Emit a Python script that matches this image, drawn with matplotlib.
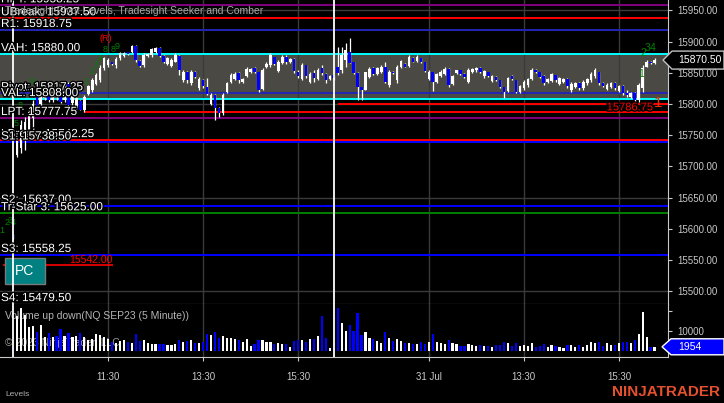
import matplotlib
matplotlib.use("Agg")
import matplotlib.pyplot as plt
import matplotlib.patheffects as pe
import matplotlib.transforms as mtransforms
from matplotlib.patches import Polygon, Rectangle
import numpy as np

plt.rcParams['font.family'] = ['Liberation Sans', 'DejaVu Sans']

W, H = 724, 403

# NQ SEP23 5 minute bars. first bar = last bar of the previous session,
# then 81 bars of 28 Jul RTH and 81 bars of 31 Jul RTH
opens = [15590,
         15718, 15730, 15742, 15758, 15778, 15811, 15800, 15810, 15822, 15806,
         15826, 15819, 15806, 15832, 15802, 15794, 15805, 15790, 15816, 15822,
         15832, 15838, 15858, 15863, 15867, 15863, 15874, 15877, 15883, 15883,
         15893, 15869, 15862, 15877, 15879, 15884, 15890, 15877, 15864, 15861,
         15868, 15877, 15838, 15851, 15834, 15851, 15826, 15838, 15827, 15800,
         15814, 15794, 15786, 15819, 15835, 15840, 15850, 15836, 15845, 15852,
         15858, 15851, 15824, 15859, 15862, 15875, 15853, 15866, 15876, 15867,
         15872, 15852, 15840, 15862, 15836, 15850, 15840, 15858, 15848, 15840,
         15846,
         15859, 15855, 15871, 15883, 15867, 15850, 15827, 15823, 15843, 15858,
         15848, 15852, 15859, 15830, 15851, 15838, 15860, 15865, 15861, 15874,
         15869, 15874, 15867, 15840, 15851, 15836, 15845, 15849, 15857, 15832,
         15850, 15854, 15848, 15836, 15852, 15854, 15858, 15845, 15851, 15837,
         15843, 15838, 15827, 15821, 15845, 15838, 15820, 15825, 15830, 15840,
         15855, 15851, 15845, 15835, 15837, 15847, 15832, 15836, 15840, 15822,
         15828, 15834, 15825, 15834, 15838, 15845, 15851, 15834, 15824, 15828,
         15834, 15821, 15829, 15818, 15812, 15817, 15806, 15826, 15860, 15868,
         15866]
highs = [15592,
         15758, 15774, 15779, 15794, 15806, 15815, 15827, 15829, 15826, 15827,
         15829, 15822, 15834, 15835, 15822, 15811, 15806, 15814, 15831, 15842,
         15850, 15862, 15875, 15874, 15868, 15875, 15883, 15884, 15884, 15895,
         15895, 15871, 15882, 15882, 15890, 15891, 15891, 15879, 15875, 15874,
         15882, 15879, 15855, 15853, 15855, 15853, 15843, 15840, 15842, 15818,
         15816, 15795, 15818, 15835, 15850, 15851, 15851, 15842, 15859, 15858,
         15859, 15852, 15858, 15867, 15882, 15876, 15870, 15879, 15879, 15874,
         15874, 15855, 15866, 15863, 15851, 15855, 15858, 15862, 15850, 15847,
         15847,
         15891, 15891, 15898, 15906, 15868, 15851, 15827, 15852, 15859, 15860,
         15860, 15862, 15867, 15855, 15853, 15862, 15871, 15866, 15879, 15876,
         15879, 15874, 15868, 15854, 15852, 15850, 15854, 15859, 15858, 15847,
         15855, 15855, 15850, 15858, 15858, 15860, 15860, 15855, 15852, 15847,
         15845, 15839, 15828, 15844, 15847, 15839, 15831, 15839, 15842, 15858,
         15857, 15852, 15847, 15842, 15850, 15847, 15843, 15842, 15842, 15835,
         15835, 15835, 15838, 15842, 15851, 15858, 15852, 15835, 15834, 15835,
         15835, 15831, 15831, 15822, 15819, 15819, 15834, 15862, 15871, 15869,
         15874]
lows = [15583,
        15715, 15722, 15726, 15747, 15754, 15787, 15795, 15806, 15803, 15803,
        15806, 15802, 15803, 15795, 15798, 15790, 15790, 15786.75, 15814, 15819,
        15830, 15835, 15855, 15859, 15862, 15858, 15871, 15875, 15879, 15882,
        15867, 15859, 15859, 15875, 15875, 15882, 15875, 15866, 15862, 15859,
        15867, 15847, 15835, 15834, 15831, 15842, 15823, 15826, 15814, 15798,
        15774, 15779, 15782, 15818, 15834, 15838, 15834, 15834, 15843, 15850,
        15850, 15819, 15822, 15858, 15859, 15862, 15851, 15865, 15865, 15866,
        15850, 15842, 15838, 15842, 15834, 15835, 15838, 15847, 15834, 15838,
        15838,
        15847, 15850, 15859, 15866, 15849, 15806, 15806, 15822, 15842, 15846,
        15846, 15850, 15834, 15827, 15849, 15834, 15858, 15859, 15859, 15867,
        15867, 15866, 15851, 15838, 15821, 15834, 15843, 15847, 15827, 15831,
        15849, 15846, 15842, 15834, 15850, 15851, 15850, 15842, 15843, 15835,
        15837, 15826, 15810, 15819, 15838, 15818, 15818, 15822, 15827, 15838,
        15850, 15842, 15831, 15834, 15835, 15835, 15830, 15834, 15826, 15819,
        15826, 15822, 15822, 15830, 15835, 15842, 15830, 15827, 15822, 15826,
        15822, 15819, 15814, 15811, 15810, 15803, 15803, 15819, 15859, 15865,
        15865]
closes = [15585,
          15750, 15766, 15771, 15788, 15800, 15790, 15822, 15826, 15806, 15822,
          15813, 15803, 15829, 15798, 15819, 15810, 15791, 15811, 15829, 15838,
          15846, 15858, 15874, 15870, 15864, 15872, 15882, 15882, 15880, 15893,
          15871, 15861, 15878, 15880, 15888, 15890, 15877, 15867, 15874, 15870,
          15879, 15855, 15852, 15839, 15851, 15843, 15840, 15829, 15816, 15814,
          15794, 15786, 15815, 15833, 15847, 15848, 15838, 15840, 15856, 15856,
          15851, 15823, 15855, 15865, 15878, 15864, 15867, 15876, 15868, 15872,
          15853, 15845, 15862, 15845, 15849, 15842, 15855, 15850, 15838, 15845,
          15841,
          15850, 15879, 15887, 15866, 15850, 15827, 15823, 15851, 15857, 15849,
          15858, 15860, 15835, 15851, 15850, 15859, 15869, 15860, 15876, 15868,
          15876, 15867, 15853, 15852, 15835, 15848, 15852, 15857, 15830, 15845,
          15854, 15848, 15844, 15855, 15856, 15858, 15851, 15853, 15845, 15845,
          15838, 15828, 15819, 15841, 15840, 15820, 15829, 15836, 15840, 15855,
          15851, 15843, 15833, 15840, 15848, 15838, 15841, 15840, 15829, 15832,
          15833, 15825, 15836, 15840, 15848, 15855, 15834, 15829, 15831, 15833,
          15825, 15829, 15818, 15814, 15817, 15806, 15830, 15858, 15868, 15866,
          15870.5]
volumes = [2000,
           17300, 21200, 17800, 12000, 12300, 9500, 12800, 6700, 8700, 6700,
           7300, 10700, 7300, 8700, 7000, 7300, 8700, 6700, 5300, 5700,
           8300, 7800, 7000, 5700, 4500, 3700, 5000, 5300, 4500, 4000,
           8300, 5000, 5500, 4000, 3500, 3500, 3500, 3500, 3000, 3000,
           3500, 5500, 4500, 5000, 5500, 4000, 4000, 4500, 8300, 8000,
           9300, 6500, 7500, 6500, 6500, 5800, 5500, 4500, 6000, 2300,
           3300, 5300, 5300, 4300, 4300, 3300, 4000, 3300, 3300, 2000,
           4800, 5300, 5300, 4500, 5800, 5800, 7300, 17300, 6300, 1300,
           1300,
           21300, 13800, 9800, 12800, 9800, 18800, 7800, 9300, 6300, 5700,
           4800, 4000, 9300, 6300, 4800, 5800, 4800, 3800, 3800, 3300,
           3300, 4300, 3300, 4300, 8300, 4300, 3800, 3300, 5300, 3800,
           3300, 2300, 2300, 3300, 2800, 2300, 2800, 2300, 2300, 1800,
           2800, 3000, 4500, 4000, 2500, 4000, 2500, 3000, 2500, 4000,
           2000, 2500, 3500, 2000, 3000, 2500, 1700, 1200, 2800, 2800,
           2000, 2800, 2000, 2800, 4200, 3700, 4200, 2500, 3700, 2800,
           2800, 3700, 4500, 4500, 3700, 5300, 8200, 19200, 7000, 1700,
           1954]

tick_bars = [23, 47, 71, 104, 128, 152]
tick_labels = ['11:30', '13:30', '15:30', '31 Jul', '13:30', '15:30']
session_breaks = [-1, 80]

level_names = ['HPT', 'UBreak', 'R1', 'VAH', 'Pivot', 'VAL', 'LPT',
               'LBreak', 'S1', 'S2', 'Tr-Star 3', 'S3', 'S4']
level_values = [15958.25, 15937.50, 15918.75, 15880.00, 15817.25, 15808.00,
                15777.75, 15742.25, 15738.50, 15637.00, 15625.00, 15558.25,
                15479.50]
level_colors = ['#800080', '#ff0000', '#2424b8', '#00ffff', '#2424b8',
                '#00ffff', '#800080', '#ff0000', '#0000ff', '#0000ff',
                '#008000', '#0000ff', '#0000ff']

# seeker / comber counts: (text, bar, price, colour)
seeker_marks = [('1', -3.9, 15598, '#008000'), ('2', -2.6, 15611, '#008000'),
                ('3', -1.6, 15614, '#008000'), ('4', -0.9, 15610, '#008000'),
                ('5', -0.1, 15769, '#008000'), ('8', 0.9, 15798, '#008000'),
                ('9', 3.9, 15836, '#008000'),
                ('1', 17.4, 15836, '#008000'), ('2', 18.9, 15852, '#008000'),
                ('3', 20.0, 15864, '#008000'), ('4', 21.0, 15873, '#008000'),
                ('8', 22.2, 15887, '#008000'), ('8', 24.2, 15887, '#008000'),
                ('9', 25.3, 15893, '#008000'), ('(R)', 22.4, 15905, '#ff0000'),
                ('1', 157.5, 15849, '#008000'), ('2', 158.3, 15882, '#008000'),
                ('3', 159.3, 15890, '#008000'), ('4', 160.5, 15890, '#008000')]

grid_prices = [15500, 15650, 15800, 15950]
fill_color = '#4a4944'
grid_color = '#3a3a3a'
axis_text = '#c8c8c8'

fig = plt.figure(figsize=(W / 100, H / 100), dpi=100, facecolor='black')
ax = fig.add_axes([0, 99 / H, 668 / W, 304 / H])
axv = fig.add_axes([0, 46 / H, 668 / W, 53 / H], sharex=ax)
for a in (ax, axv):
    a.set_facecolor('black')
    for s in ('top', 'left'):
        a.spines[s].set_visible(False)
    a.spines['right'].set_color(axis_text)
    a.spines['bottom'].set_color(axis_text)

ax.set_xlim(-4.29, 164.4)
ax.set_ylim(15479.6, 15966.8)
axv.set_ylim(-3150, 23350)

x = np.arange(len(opens)) - 1
o, hi, lo, c = (np.array(v, dtype=float) for v in (opens, highs, lows, closes))
body_col = np.where(c >= o, 'white', '#0000ff')

# value area and grid
ax.axhspan(level_values[5], level_values[3], color=fill_color, lw=0, zorder=0.5)
for g in grid_prices:
    ax.axhline(g, color=grid_color, lw=1, zorder=1)
for tb in tick_bars:
    ax.axvline(tb, color=grid_color, lw=1, zorder=1)
    axv.axvline(tb, color=grid_color, lw=1, zorder=1)

# levels
lab = mtransforms.blended_transform_factory(ax.transAxes, ax.transData)
stroke = [pe.withStroke(linewidth=2, foreground='black')]
for name, val, col in zip(level_names, level_values, level_colors):
    if name != 'S4':
        ax.axhline(val, color=col, lw=1.4, zorder=2)
for name, val in zip(level_names, level_values):
    ax.text(0.0015, val, f'{name}: {val:.2f}', transform=lab, color='white',
            fontsize=8.5, va='bottom', ha='left', zorder=5, clip_on=True,
            path_effects=stroke)

# red reference lines
ax.hlines(15800.0, 81, 164.4, color='#ff0000', lw=1.4, zorder=2)
ax.hlines(15786.75, 17, 164.4, color='#ff0000', lw=1.4, zorder=2)
ax.text(160.6, 15786.75, '15786.75', color='#ff0000', fontsize=8,
        ha='right', va='bottom', zorder=5, path_effects=stroke)
ax.text(160.8, 15790, '1', color='#ff2a00', fontsize=11, ha='left',
        va='bottom', zorder=5, clip_on=True)
ax.hlines(15542.0, -3.5, 24.2, color='#ff0000', lw=1.2, zorder=2)
ax.text(24.2, 15542.0, '15542.00', color='#ff0000', fontsize=7.5,
        ha='right', va='bottom', zorder=5)
ax.add_patch(Rectangle((-3.03, 15511.7), 10.1, 41.6, facecolor='#008080',
                       edgecolor='#7a7a7a', lw=1, zorder=4))
ax.text(2.0, 15532.5, 'PC', color='white', fontsize=10, ha='center',
        va='center', zorder=5)

# candles
ax.vlines(x, lo, hi, color='white', lw=0.9, zorder=3)
ax.bar(x, np.maximum(np.abs(c - o), 1.3), bottom=np.minimum(o, c), width=0.65,
       color=body_col, lw=0, zorder=3.2)

for txt, bx, py, col in seeker_marks:
    fs = 7.5 if bx > 150 else 6.5
    ax.text(bx, py, txt, color=col, fontsize=fs, ha='center', va='center',
            zorder=4, clip_on=True)

for sb in session_breaks:
    ax.axvline(sb, color='white', lw=1.3, zorder=4.5)
    axv.axvline(sb, color='white', lw=1.3, zorder=4.5)

# volume
axv.bar(x, volumes, width=0.55, color=body_col, lw=0, zorder=3)

# axes / ticks
ax.yaxis.tick_right()
ax.set_yticks(np.arange(15500, 15951, 50))
ax.set_yticklabels([f'{v:.2f}' for v in np.arange(15500, 15951, 50)])
ax.tick_params(axis='y', colors=axis_text, labelsize=7, length=3, pad=4)
ax.tick_params(axis='x', length=0, labelbottom=False)
axv.yaxis.tick_right()
axv.set_yticks([10000, 20000])
axv.set_yticklabels(['10000', ''])
axv.tick_params(axis='y', colors=axis_text, labelsize=7, length=3, pad=4)
axv.set_xticks(tick_bars)
axv.set_xticklabels(tick_labels)
axv.tick_params(axis='x', colors=axis_text, labelsize=7, length=3, pad=8)

# current price / volume markers
yr = ax.get_ylim()
hp = (yr[1] - yr[0]) / 304 * 9
mk = mtransforms.blended_transform_factory(ax.transAxes, ax.transData)
px = lambda p: p / 668
cp = closes[-1]
ax.add_patch(Polygon([(px(663), cp), (px(672), cp + hp), (px(724), cp + hp),
                      (px(724), cp - hp), (px(672), cp - hp)], closed=True,
                     transform=mk, facecolor='black', edgecolor='#c0c0c0',
                     lw=1, clip_on=False, zorder=6))
ax.text(px(678), cp, f'{cp:.2f}', transform=mk, color='white', fontsize=7.5,
        va='center', ha='left', clip_on=False, zorder=7)

vr = axv.get_ylim()
hv = (vr[1] - vr[0]) / 53 * 8
mkv = mtransforms.blended_transform_factory(axv.transAxes, axv.transData)
cv = volumes[-1]
axv.add_patch(Polygon([(px(662), cv), (px(671), cv + hv), (px(724), cv + hv),
                       (px(724), cv - hv), (px(671), cv - hv)], closed=True,
                      transform=mkv, facecolor='#0000ff', edgecolor='white',
                      lw=1, clip_on=False, zorder=6))
axv.text(px(678), cv, f'{cv}', transform=mkv, color='white', fontsize=7.5,
         va='center', ha='left', clip_on=False, zorder=7)

# captions
fig.text(5 / W, 1 - 11 / H, 'Tradesight Pivot Levels, Tradesight Seeker and Comber',
         color='#a8a8a8', fontsize=7.5, va='center', ha='left', zorder=1)
axv.text(0.0075, 0.78, 'Volume up down(NQ SEP23 (5 Minute))', transform=axv.transAxes,
         color='#b4b4b4', fontsize=7.5, va='center', ha='left', zorder=2)
axv.text(0.0075, 0.26, '\u00a9 2023 NinjaTrader, LLC', transform=axv.transAxes,
         color='#9a9a9a', fontsize=7.5, va='center', ha='left', zorder=2)
fig.text(5 / W, 1 - 394 / H, 'Levels', color='#b0b0b0', fontsize=6,
         va='center', ha='left')
fig.text(612 / W, 1 - 392 / H, 'NINJATRADER', color='#e5502e', fontsize=11,
         fontweight='bold', va='center', ha='left')

fig.savefig('out.png', dpi=100, facecolor='black')
